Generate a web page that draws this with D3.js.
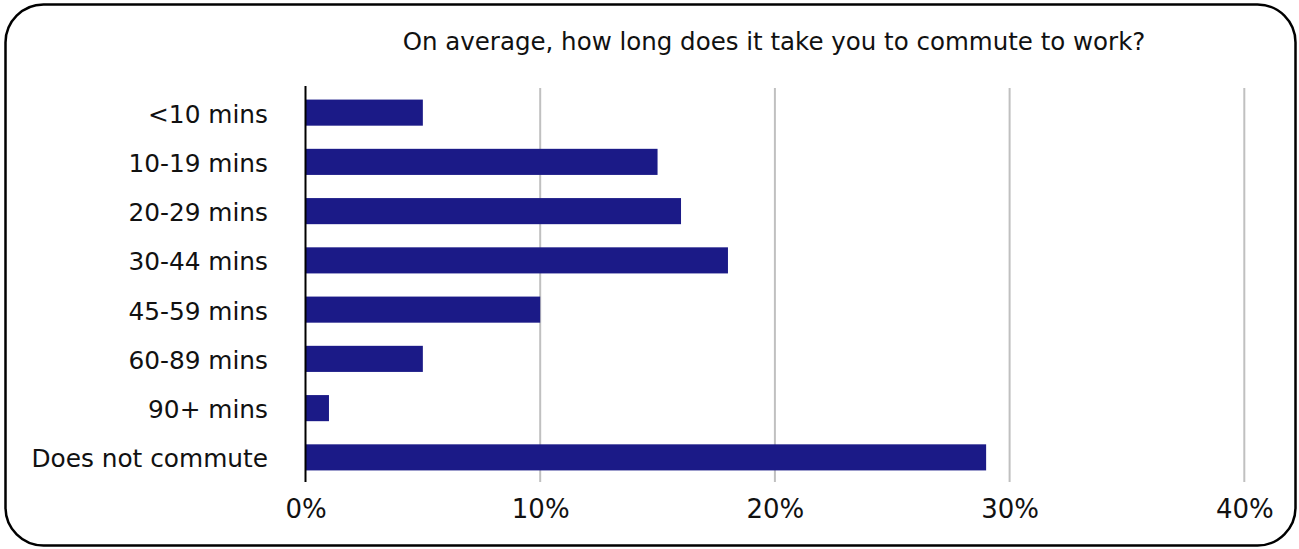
<!DOCTYPE html>
<html><head><meta charset="utf-8">
<script src="https://cdn.jsdelivr.net/npm/d3@7"></script>
<style>html,body{margin:0;padding:0;background:#fff;}svg{display:block;}</style>
</head><body>
<script>
const categories = ["<10 mins","10-19 mins","20-29 mins","30-44 mins","45-59 mins","60-89 mins","90+ mins","Does not commute"];
const values = [5, 15, 16, 18, 10, 5, 1, 29];
const tickValues = [0, 10, 20, 30, 40];
const tickLabels = ["0%","10%","20%","30%","40%"];
const title = "On average, how long does it take you to commute to work?";

const W = 1299, H = 549;
const svg = d3.select("body").append("svg").attr("width", W).attr("height", H);
const font = "'DejaVu Sans', sans-serif";

svg.append("rect").attr("x", 5.5).attr("y", 4.5).attr("width", 1290).attr("height", 541)
  .attr("rx", 38).attr("ry", 38).attr("fill", "#fff").attr("stroke", "#000").attr("stroke-width", 2.5);

const x = d3.scaleLinear().domain([0, 40]).range([305.5, 1244.3]);
const y = d3.scaleBand().domain(categories).range([88, 482]).paddingInner(0.47).paddingOuter(0.235);

// gridlines
svg.append("g").selectAll("line").data(tickValues.filter(d => d > 0)).join("line")
  .attr("x1", d => x(d)).attr("x2", d => x(d)).attr("y1", 88).attr("y2", 482)
  .attr("stroke", "#c0c0c0").attr("stroke-width", 2);

// bars
svg.append("g").selectAll("rect").data(values).join("rect")
  .attr("x", x(0)).attr("y", (d, i) => y(categories[i]))
  .attr("width", d => x(d) - x(0)).attr("height", y.bandwidth())
  .attr("fill", "#1b1a87");

// zero axis line
svg.append("line").attr("x1", x(0)).attr("x2", x(0)).attr("y1", 86).attr("y2", 482)
  .attr("stroke", "#000").attr("stroke-width", 2);

// category labels
svg.append("g").selectAll("text").data(categories).join("text")
  .attr("x", 268).attr("y", d => y(d) + y.bandwidth() / 2 + 1)
  .attr("dy", "0.36em").attr("text-anchor", "end")
  .attr("font-family", font).attr("font-size", 24.8).attr("fill", "#111")
  .text(d => d);

// x tick labels
const xAxis = d3.axisBottom(x).tickValues(tickValues).tickFormat((d, i) => tickLabels[i]).tickSize(0).tickPadding(0);
const gx = svg.append("g").attr("transform", "translate(0,500)").call(xAxis);
gx.select(".domain").remove();
gx.selectAll("text").attr("font-family", font).attr("font-size", 26).attr("fill", "#111").attr("dy", "0.71em");

// title
svg.append("text").attr("x", 774).attr("y", 50).attr("text-anchor", "middle")
  .attr("font-family", font).attr("font-size", 24.5).attr("fill", "#111").text(title);
</script>
</body></html>
